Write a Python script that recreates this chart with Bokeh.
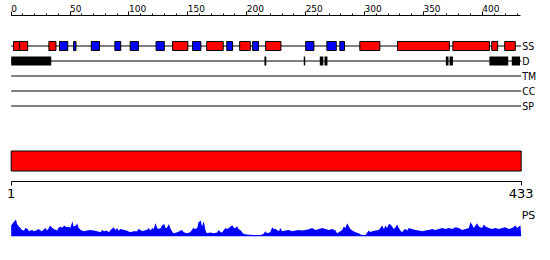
from bokeh.plotting import figure
from bokeh.layouts import column
from bokeh.models import Range1d, LinearAxis, FixedTicker, CustomJSTickFormatter
from bokeh.core.properties import value
from bokeh.embed import file_html
from bokeh.resources import INLINE

# ---------------- data ----------------
seq_len = 433
ruler_ticks = [0, 50, 100, 150, 200, 250, 300, 350, 400]
ruler_minor = list(range(0, 440, 10))
end_ticks = [1, 433]
track_labels = ["SS", "D", "TM", "CC", "SP"]

helix_start = [2, 7, 32, 137, 166, 194, 216, 296, 328, 375, 408, 419]
helix_end = [7, 14, 38, 150, 180, 203, 229, 313, 372, 406, 413, 428]
strand_start = [41, 53, 68, 88, 101, 123, 154, 183, 205, 250, 268, 279]
strand_end = [48, 55, 75, 93, 108, 130, 161, 188, 210, 257, 276, 283]
disorder_start = [0, 215, 248.4, 262, 266, 369, 372.2, 406, 425]
disorder_end = [34, 216.6, 249.6, 265, 268.5, 371.3, 375, 422, 432]

ps_pos = [0, 2, 4, 5, 6.5, 8, 9, 11, 12, 14, 15, 16, 18, 19, 21, 22, 23, 25, 26, 28,
          29, 30.5, 32, 33, 35, 36, 38, 39, 40, 42, 43, 45, 46, 47.5, 49, 50, 52, 53,
          55, 56, 57, 59, 60, 62, 64.5, 67, 70, 73, 76, 77, 79, 81, 83, 84, 87, 88.5,
          90, 91, 93, 96, 98, 101, 104, 107, 108, 110, 111, 113, 115, 117, 118, 120,
          121, 122.5, 124, 125, 127, 128, 130, 131, 132, 134, 135, 137, 138, 141, 144,
          145, 146.5, 149, 152, 154, 155, 156, 158, 159, 161, 162, 163.5, 165, 166,
          169, 172, 175, 176, 178, 179, 180.5, 182, 183, 185, 186, 188, 189, 190, 192,
          193, 195, 196, 197.5, 200, 206, 212, 214, 216, 217, 220, 221.5, 223, 224.4,
          227.2, 228.6, 230, 232.9, 235.7, 238.5, 241.4, 244.2, 247, 249.9, 252.7,
          255.5, 258.4, 261.2, 264, 266.8, 269.7, 272.5, 275.3, 276.7, 278.2, 281,
          282.4, 283.8, 285.2, 286.7, 288.1, 289.5, 292.3, 295.1, 296.6, 298, 300.8,
          303.6, 305, 306.5, 309.3, 312.1, 313.5, 314.9, 316.4, 317.8, 319.2, 320.6,
          322, 323.4, 324.9, 326.3, 327.7, 329.1, 330.5, 331.9, 333.3, 334.8, 336.2,
          337.6, 340.4, 343.2, 346.1, 348.9, 351.7, 354.6, 357.4, 360.2, 363, 365.9,
          368.7, 371.5, 374.4, 377.2, 380, 382.9, 385.7, 388.5, 389.9, 391.3, 392.8,
          394.2, 395.6, 397, 399.8, 401.3, 402.7, 405.5, 408.3, 411.2, 414, 416.8,
          419.6, 422.5, 425.3, 428.1, 429.5, 431, 432.4, 433]
ps_val = [10.7, 14, 16.7, 12.3, 9.7, 8.3, 6.3, 5.7, 8.3, 7.3, 5, 5.7, 6.3, 5, 5.7, 6.3,
          7.3, 5.7, 5, 7.3, 8.3, 5.7, 8.3, 10.7, 8.3, 7.3, 6.3, 5.7, 8.3, 9.7, 8.3,
          10.7, 9.7, 9, 9.7, 8.3, 14.7, 9.7, 10.7, 13, 9, 6.3, 5.7, 5, 5.7, 6.3, 5.7,
          5, 4, 6.3, 5, 5.7, 4, 5.7, 9, 6.3, 8.3, 5.7, 7.3, 6.3, 5.7, 4, 5, 5, 7.3,
          6.3, 5, 5.7, 6.3, 8.3, 5.7, 8.3, 7.3, 13, 8.3, 7.3, 8.3, 10.7, 12.3, 8.3,
          8.3, 12.3, 8.3, 4, 3, 4, 5.7, 6.3, 4, 3, 4, 7.3, 8.3, 7.3, 8.3, 14, 15.7,
          9.7, 15, 5.7, 3, 3.7, 3, 3.7, 6.3, 4, 3.7, 6.3, 8.3, 7.3, 8.3, 9.7, 10.7,
          8.3, 8.3, 9.7, 7.3, 5.7, 4, 2.3, 1.7, 1.3, 1.3, 2.3, 5, 3, 4, 9, 7.3, 7.3,
          5, 8.3, 5, 5.7, 6.3, 5, 5.7, 6.3, 5.7, 6.3, 7, 8.3, 6.3, 7.3, 8.3, 7.3, 6.3,
          7.3, 5.7, 3, 4, 6.3, 9.7, 8.3, 13, 9.7, 7.3, 5.7, 4, 3, 1.7, 1.3, 1.3, 5.7,
          4, 5, 5.7, 6.3, 8.3, 10.7, 7.3, 10.7, 8.3, 12.3, 11.7, 9.7, 7.3, 9, 11.7,
          8.3, 5.7, 4, 6.3, 7.3, 5.7, 8.3, 7.3, 6.3, 5.7, 5, 5.7, 6.3, 7.3, 6.3, 7.3,
          8.3, 7.3, 8.3, 7.3, 9, 8.3, 6.3, 7.3, 8.3, 14, 11.7, 8.3, 10.7, 13, 9.7, 8.3,
          11.7, 9.7, 8.3, 7.3, 8.3, 7.3, 8.3, 9, 7.3, 8.3, 10.7, 8.3, 9.7, 10.7, 0]

# ---------------- layout ----------------
W = 550
X0_PX, X1_PX = 10.7, 520.7
scale = (X1_PX - X0_PX) / seq_len
top_range = Range1d(-X0_PX / scale, (W - X0_PX) / scale)
s1 = (X1_PX - X0_PX) / (end_ticks[1] - end_ticks[0])
pos_range = Range1d(end_ticks[0] - X0_PX / s1, end_ticks[0] + (W - X0_PX) / s1)

RED, BLUE = "#ff0000", "#0000ff"
LABEL_FONT = "DejaVu Sans"
RULER_FONT_PX = 9
DIGIT_EM = 0.636  # DejaVu Sans digit advance


def make_fig(h, x_range, y_range, **kw):
    opts = dict(min_border=0, min_border_left=0, min_border_right=0,
                min_border_top=0, min_border_bottom=0)
    opts.update(kw)
    p = figure(width=W, height=h, x_range=x_range, y_range=y_range, title=None,
               output_backend="svg", toolbar_location=None,
               x_axis_location=None, y_axis_location=None, **opts)
    p.xgrid.visible = False
    p.ygrid.visible = False
    p.outline_line_color = None
    p.background_fill_color = "white"
    p.border_fill_color = "white"
    return p


# tracks + full-length bar, ruler axis above, end axis below
# (y in this figure counts pixels down from the top of the picture)
p1 = make_fig(206, top_range, Range1d(181, 15), min_border_top=15, min_border_bottom=25)
p1.extra_x_ranges = {"pos1": pos_range}

ruler = LinearAxis(ticker=FixedTicker(ticks=ruler_ticks, minor_ticks=ruler_minor),
                   bounds=(0, 432), major_tick_out=4, major_tick_in=0,
                   minor_tick_out=2, minor_tick_in=0,
                   major_label_text_font_size="0px", major_label_text_color=None,
                   major_label_standoff=0,
                   axis_line_color="black", major_tick_line_color="black",
                   minor_tick_line_color="black")
p1.add_layout(ruler, "above")

# ruler labels: a line-less axis whose centred labels start at each ruler tick
half_w = [len(str(t)) * DIGIT_EM * RULER_FONT_PX / 2 / scale for t in ruler_ticks]
label_ticks = [t + hw for t, hw in zip(ruler_ticks, half_w)]
ruler_labels = LinearAxis(
    ticker=FixedTicker(ticks=label_ticks, minor_ticks=[]),
    formatter=CustomJSTickFormatter(args=dict(labels=[str(t) for t in ruler_ticks]),
                                    code="return labels[index];"),
    major_tick_out=0, major_tick_in=0, minor_tick_out=0, minor_tick_in=0,
    major_label_standoff=0, major_label_text_font=LABEL_FONT,
    major_label_text_font_size=f"{RULER_FONT_PX}px", major_label_text_color="black",
    axis_line_color=None, major_tick_line_color=None, minor_tick_line_color=None)
p1.add_layout(ruler_labels, "above")

ends = LinearAxis(x_range_name="pos1", ticker=FixedTicker(ticks=end_ticks),
                  bounds=(end_ticks[0], end_ticks[1]), major_tick_out=4, major_tick_in=0,
                  minor_tick_out=0, minor_tick_in=0, major_label_standoff=3,
                  major_label_text_font_size="13px",
                  major_label_text_font=LABEL_FONT, major_label_text_color="black",
                  axis_line_color="black", major_tick_line_color="black")
p1.add_layout(ends, "below")

track_y = [45.5, 60.5, 75.5, 90.5, 105.5]
p1.segment(x0=[0] * 5, x1=[seq_len] * 5, y0=track_y, y1=track_y,
           line_color="black", line_width=1)
p1.quad(left=helix_start, right=helix_end, top=41, bottom=50,
        fill_color=RED, line_color="black", line_width=1)
p1.quad(left=strand_start, right=strand_end, top=41, bottom=50,
        fill_color=BLUE, line_color="black", line_width=1)
p1.quad(left=disorder_start, right=disorder_end, top=56, bottom=65,
        fill_color="black", line_color=None)
p1.text(x=[seq_len] * 5, y=track_y, text=track_labels, x_offset=1,
        text_font=value("DejaVu Sans Condensed"), text_font_size="10.5px",
        text_align="left", text_baseline="middle", text_color="black")
p1.quad(left=[0], right=[seq_len], top=[150.5], bottom=[170.5],
        fill_color=RED, line_color="black", line_width=1)

# PS profile
p2 = make_fig(54, top_range, Range1d(-24.3, 29.7))
p2.varea(x=ps_pos, y1=0, y2=ps_val, fill_color=BLUE)
p2.text(x=[seq_len], y=[20.7], text=["PS"], x_offset=0.5,
        text_font=value(LABEL_FONT), text_font_size="11px",
        text_align="left", text_baseline="alphabetic", text_color="black")

layout = column(p1, p2, spacing=0)
open("out.html", "w").write(file_html(layout, INLINE))
